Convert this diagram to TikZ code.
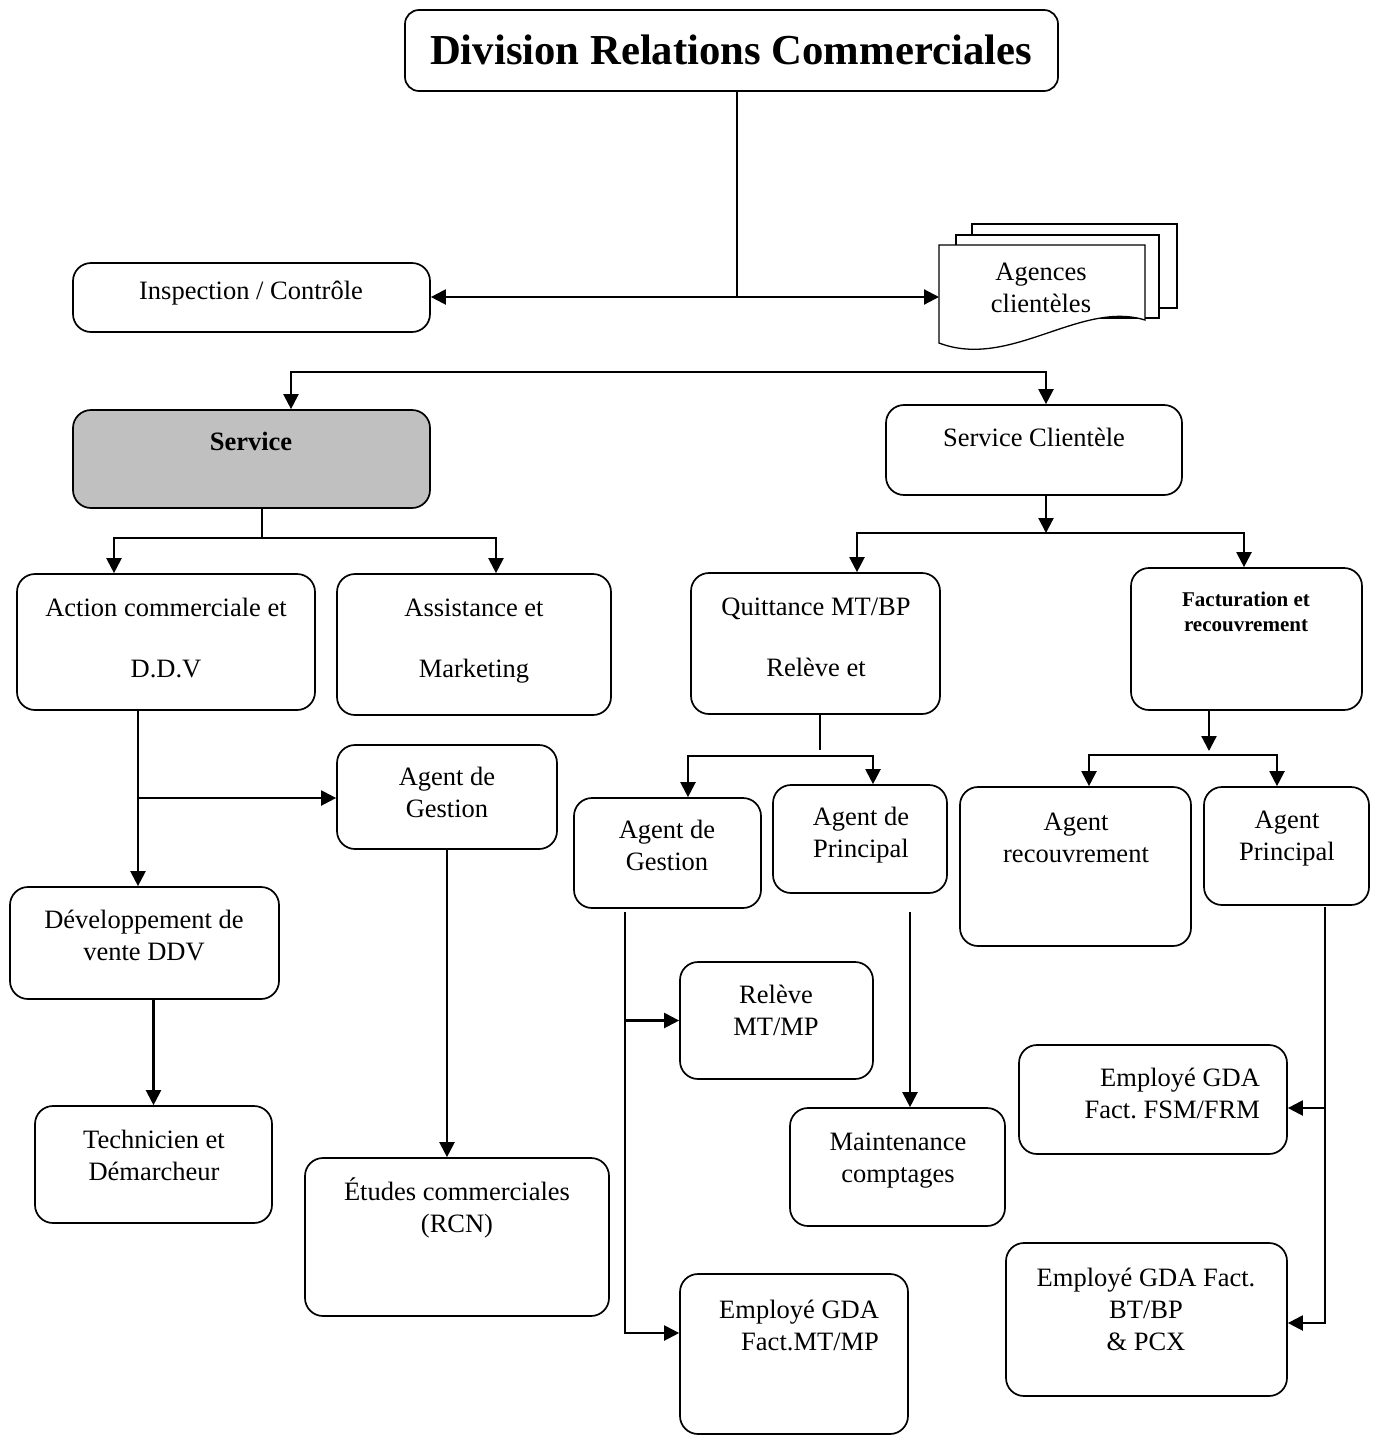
\documentclass[tikz,border=0pt]{standalone}
\usepackage{fontspec}
\setmainfont{Liberation Serif}
\usepackage{tikz}
\usetikzlibrary{arrows.meta,positioning}
\definecolor{svcgray}{RGB}{192,192,192}
\frenchspacing

\begin{document}
\begin{tikzpicture}[x=1pt,y=-1pt,>={Triangle[length=15pt,width=15pt]},
                    line width=2.2pt,
                    box/.style={draw,rounded corners=18pt,line width=1.7pt,inner sep=0pt},
                    txt/.style={align=center,inner sep=0pt,font=\fontsize{26.5}{32}\selectfont},
                    wide txt/.style={txt,font=\fontsize{26.5}{61}\selectfont},
                    thin line/.style={line width=1.2pt}]
\useasboundingbox (0,0) rectangle (1376,1436);

% boxes
\node[box,rounded corners=14pt,minimum width=653pt,minimum height=81pt] (title) at (731.5,50.5) {};
\node[box,minimum width=357pt,minimum height=69pt] (insp) at (251.5,297.5) {};
\node[box,fill=svcgray,minimum width=357pt,minimum height=98pt] (service) at (251.5,459) {};
\node[box,minimum width=296pt,minimum height=90pt] (clientele) at (1034,450) {};
\node[box,minimum width=298pt,minimum height=136pt] (action) at (166,642) {};
\node[box,minimum width=274pt,minimum height=141pt] (assist) at (474,644.5) {};
\node[box,minimum width=249pt,minimum height=141pt] (quitt) at (815.5,643.5) {};
\node[box,minimum width=231pt,minimum height=142pt] (factu) at (1246.5,639) {};
\node[box,minimum width=220pt,minimum height=104pt] (gestA) at (447,797) {};
\node[box,minimum width=187pt,minimum height=110pt] (gestB) at (667.5,853) {};
\node[box,minimum width=174pt,minimum height=108pt] (princA) at (860,839) {};
\node[box,minimum width=231pt,minimum height=159pt] (recouv) at (1075.5,866.5) {};
\node[box,minimum width=165pt,minimum height=118pt] (princB) at (1286.5,846) {};
\node[box,minimum width=269pt,minimum height=112pt] (devel) at (144.5,943) {};
\node[box,minimum width=193pt,minimum height=117pt] (releve) at (776.5,1020.5) {};
\node[box,minimum width=268pt,minimum height=109pt] (fsm) at (1153,1099.5) {};
\node[box,minimum width=237pt,minimum height=117pt] (techn) at (153.5,1164.5) {};
\node[box,minimum width=215pt,minimum height=118pt] (maint) at (897.5,1167) {};
\node[box,minimum width=304pt,minimum height=158pt] (etudes) at (457,1237) {};
\node[box,minimum width=281pt,minimum height=153pt] (bt) at (1146.5,1319.5) {};
\node[box,minimum width=228pt,minimum height=160pt] (empmt) at (794,1354) {};

% agences (stacked pages)
\draw[line width=1.3pt,fill=white] (972,224) rectangle (1177,308);
\draw[line width=1.3pt,fill=white] (956,235) rectangle (1159,318);
\draw[line width=1.3pt,fill=white] (939,245) -- (1145,245) -- (1145,320)
      .. controls (1080,300) and (1010,370) .. (939,343) -- cycle;
\coordinate (agin) at (939,297);

% texts
\node[txt,font=\fontsize{42.7}{50}\selectfont\bfseries] (titleT) at (731,50) {Division Relations Commerciales};
\node[txt] (inspT) at (251,293) {Inspection / Contrôle};
\node[txt] (agences) at (1041,288) {Agences\\clientèles};
\node[txt,font=\fontsize{26.5}{32}\selectfont\bfseries] (serviceT) at (251,441) {Service};
\node[txt] (clienteleT) at (1034,437) {Service Clientèle};
\node[wide txt] (actionT) at (166,637.5) {Action commerciale et\\D.D.V};
\node[wide txt] (assistT) at (474,641.5) {Assistance et\\Marketing};
\node[wide txt] (quittT) at (816,637.5) {Quittance MT/BP\\Relève et};
\node[txt,font=\fontsize{21}{25}\selectfont\bfseries] (factuT) at (1246,611.5) {Facturation et\\recouvrement};
\node[txt] (gestAT) at (447,792) {Agent de\\Gestion};
\node[txt] (gestBT) at (667,845.5) {Agent de\\Gestion};
\node[txt] (princAT) at (861,835) {Agent de\\Principal};
\node[txt] (recouvT) at (1076,838) {Agent\\recouvrement};
\node[txt] (princBT) at (1287,839) {Agent\\Principal};
\node[txt] (develT) at (144,935) {Développement de\\vente DDV};
\node[txt] (releveT) at (776,1010) {Relève\\MT/MP};
\node[txt,align=right,anchor=east] (fsmT) at (1261,1093) {Employé GDA\\Fact. FSM/FRM};
\node[txt] (technT) at (154,1155) {Technicien et\\Démarcheur};
\node[txt] (maintT) at (898,1161) {Maintenance\\comptages};
\node[txt] (etudesT) at (457,1208) {Études commerciales\\(RCN)};
\node[txt] (btT) at (1146,1309) {Employé GDA Fact.\\BT/BP\\\& PCX};
\node[txt,align=right,anchor=east] (empmtT) at (880,1325) {Employé GDA\\Fact.MT/MP};

% connectors
\coordinate (t1) at (737,297);
\draw[thin line] (title.south -| t1) -- (t1);
\draw[->] (t1) -- (insp.east |- t1);
\draw[->] (t1) -- (agin);

\coordinate (s1) at (291,372);
\coordinate (s2) at (1046,372);
\draw[<->] (s1 |- service.north) -- (s1) -- (s2) -- (s2 |- clientele.north);

\coordinate (a1) at (262,538);
\coordinate (a2) at (114,538);
\coordinate (a3) at (496,538);
\draw[thin line] (service.south -| a1) -- (a1);
\draw[<->] (a2 |- action.north) -- (a2) -- (a3) -- (a3 |- assist.north);

\coordinate (c1) at (1046,533);
\coordinate (c2) at (857,533);
\coordinate (c3) at (1244,533);
\draw[->] (clientele.south -| c1) -- (c1);
\draw[<->] (c2 |- quitt.north) -- (c2) -- (c3) -- (c3 |- factu.north);

\coordinate (q1) at (820,750);
\coordinate (q2) at (688,756);
\coordinate (q3) at (873,756);
\draw[thin line] (quitt.south -| q1) -- (q1);
\draw[<->] (q2 |- gestB.north) -- (q2) -- (q3) -- (q3 |- princA.north);

\coordinate (f1) at (1209,751);
\coordinate (f2) at (1089,755);
\coordinate (f3) at (1277,755);
\draw[->] (factu.south -| f1) -- (f1);
\draw[<->] (f2 |- recouv.north) -- (f2) -- (f3) -- (f3 |- princB.north);

\coordinate (d1) at (138,798);
\draw[->] (action.south -| d1) -- (d1 |- devel.north);
\draw[->] (d1) -- (gestA.west |- d1);
\draw[->] (devel.south -| techn.north) -- (techn.north);
\draw[->] (gestA.south) -- (gestA.south |- etudes.north);

\coordinate (g1) at (625,912);
\coordinate (g2) at (625,1333);
\draw[->] (g1) -- (g2) -- (empmt.west |- g2);
\draw[->] (g1 |- releve.west) -- (releve.west);

\coordinate (m1) at (910,912);
\draw[->] (m1) -- (m1 |- maint.north);

\coordinate (p1) at (1325,907);
\coordinate (p2) at (1325,1323);
\coordinate (p3) at (1325,1108);
\draw[->] (p1) -- (p2) -- (bt.east |- p2);
\draw[->] (p3) -- (fsm.east |- p3);
\end{tikzpicture}
\end{document}
